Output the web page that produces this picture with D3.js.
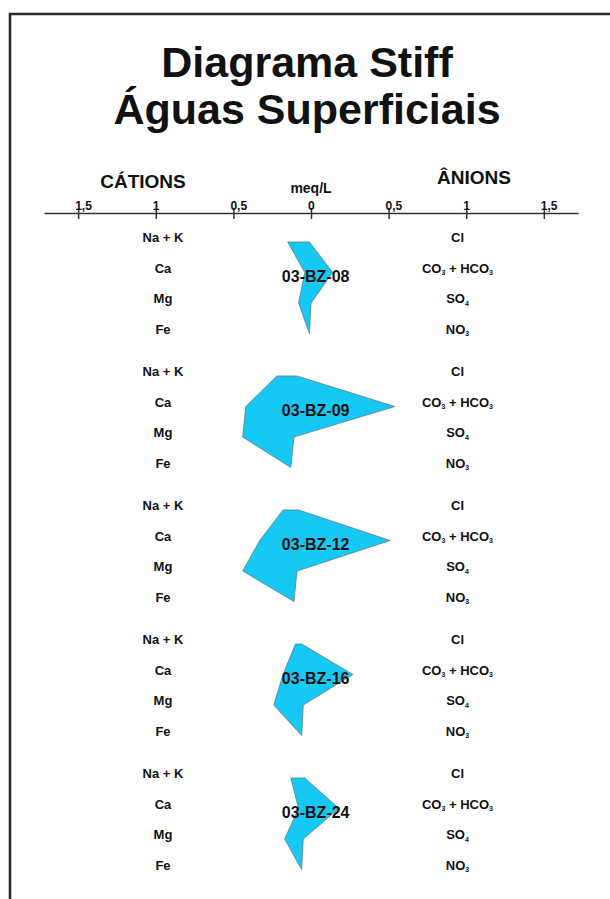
<!DOCTYPE html>
<html>
<head>
<meta charset="utf-8">
<script src="https://cdn.jsdelivr.net/npm/d3@7/dist/d3.min.js"></script>
<style>
  html, body { margin: 0; padding: 0; background: #fff; }
  svg { display: block; }
  text { font-family: "Liberation Sans", Arial, Helvetica, sans-serif; font-weight: bold; fill: #111; }
</style>
</head>
<body>
<svg id="chart" width="610" height="899"></svg>
<script>
// Stiff diagram data (meq/L)
const samples = ["03-BZ-08", "03-BZ-09", "03-BZ-12", "03-BZ-16", "03-BZ-24"];
const cations = ["Na + K", "Ca", "Mg", "Fe"];
const anions = ["Cl", "CO_3 + HCO_3", "SO_4", "NO_3"];

// one row per sample, in the order of the cation / anion lists
const cationValues = [
  [0.15, 0.04, 0.08, 0.01],
  [0.22, 0.42, 0.44, 0.13],
  [0.18, 0.33, 0.44, 0.11],
  [0.10, 0.18, 0.24, 0.06],
  [0.13, 0.08, 0.17, 0.06]
];
const anionValues = [
  [-0.01, 0.14, 0.00, -0.01],
  [-0.09, 0.54, -0.11, -0.13],
  [-0.08, 0.51, -0.09, -0.11],
  [-0.06, 0.27, -0.05, -0.06],
  [-0.04, 0.18, -0.05, -0.06]
];

const tickValues = [-1.5, -1, -0.5, 0, 0.5, 1, 1.5];
const tickLabels = ["1,5", "1", "0,5", "0", "0,5", "1", "1,5"];

const svg = d3.select("#chart");

// frame
svg.append("path")
  .attr("d", "M10,905 L10,14 L620,14")
  .attr("fill", "none")
  .attr("stroke", "#2a2a2a")
  .attr("stroke-width", 2.6);

// title
svg.append("text").attr("x", 307).attr("y", 77).attr("text-anchor", "middle")
  .style("font-size", "43px").text("Diagrama Stiff");
svg.append("text").attr("x", 307).attr("y", 124).attr("text-anchor", "middle")
  .style("font-size", "43px").text("Águas Superficiais");

// scales
const x = d3.scaleLinear().domain([-1.72, 1.72]).range([44, 578]);
const groupY = d3.scaleLinear().domain([0, samples.length - 1]).range([242, 778]);
const rowY = d3.scaleLinear().domain([0, 3]).range([0, 91.5]);

// headers
svg.append("text").attr("x", 143).attr("y", 188).attr("text-anchor", "middle")
  .style("font-size", "19px").text("CÁTIONS");
svg.append("text").attr("x", 474).attr("y", 184).attr("text-anchor", "middle")
  .style("font-size", "19px").text("ÂNIONS");
svg.append("text").attr("x", x(0)).attr("y", 193).attr("text-anchor", "middle")
  .style("font-size", "14px").text("meq/L");

// axis: cations to the left, anions to the right
const axisY = 213;
const axis = d3.axisTop(x)
  .tickValues(tickValues)
  .tickFormat((d, i) => tickLabels[i])
  .tickSizeOuter(0)
  .tickPadding(3);
const gAxis = svg.append("g").attr("transform", `translate(0,${axisY})`).call(axis);
gAxis.select(".domain").attr("stroke", "#333").attr("stroke-width", 1.6);
gAxis.selectAll(".tick line").attr("y1", -5).attr("y2", 6)
  .attr("stroke", "#333").attr("stroke-width", 1.5);
gAxis.selectAll(".tick text")
  .attr("text-anchor", "start").attr("dx", -3.5).attr("y", -3)
  .style("font-size", "12px").style("font-family", "'Liberation Sans', Arial, sans-serif")
  .style("font-weight", "bold").attr("fill", "#111");

// helper to write labels with numeric subscripts written as _n
function writeLabel(sel, label) {
  const parts = label.split(/_(\d)/);
  parts.forEach((p, i) => {
    if (p === "") return;
    if (i % 2 === 1) {
      sel.append("tspan").attr("dy", 2.5).style("font-size", "7px").text(p);
    } else {
      const t = sel.append("tspan").text(p);
      if (i > 0) t.attr("dy", -2.5);
    }
  });
}

samples.forEach((name, s) => {
  const top = groupY(s);
  const g = svg.append("g");

  cations.forEach((c, r) => {
    g.append("text").attr("x", 163).attr("y", top + rowY(r))
      .attr("text-anchor", "middle").style("font-size", "13px").text(c);
  });
  anions.forEach((a, r) => {
    const t = g.append("text").attr("x", 457.5).attr("y", top + rowY(r))
      .attr("text-anchor", "middle").style("font-size", "13px");
    writeLabel(t, a);
  });

  // polygon: cations down the left side, anions back up the right side
  const pts = [];
  cationValues[s].forEach((v, r) => pts.push([x(-v), top + rowY(r)]));
  for (let r = anions.length - 1; r >= 0; r--) pts.push([x(anionValues[s][r]), top + rowY(r)]);

  g.append("path")
    .attr("d", d3.line()(pts) + "Z")
    .attr("fill", "#16c8f4")
    .attr("stroke", "#5a7d8c")
    .attr("stroke-width", 0.8)
    .attr("stroke-linejoin", "miter");

  g.append("text").attr("x", x(0.03)).attr("y", top + 40)
    .attr("text-anchor", "middle").style("font-size", "16px").text(name);
});
</script>
</body>
</html>
